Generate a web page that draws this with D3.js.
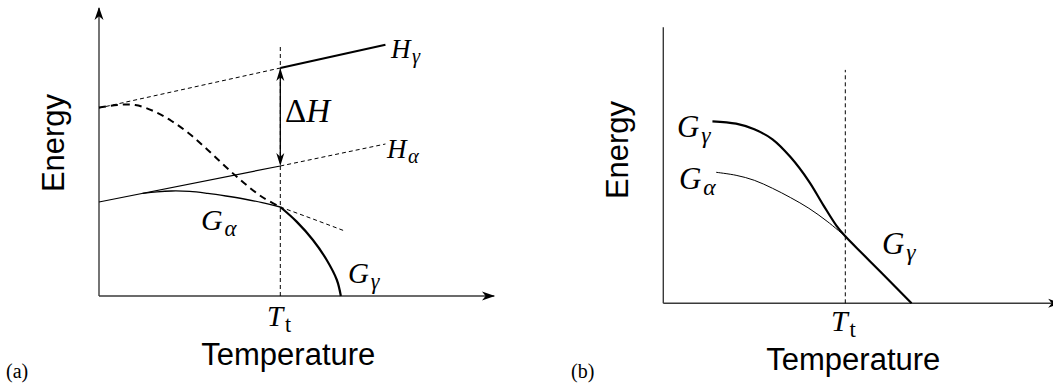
<!DOCTYPE html>
<html><head><meta charset="utf-8">
<script src="https://cdn.jsdelivr.net/npm/d3@7"></script>
<style>body{margin:0;background:#fff}</style>
</head><body>
<svg id="chart" width="1053" height="383"></svg>
<script>
// Transition temperature (same in both panels)
const tTransition = 5;

// Panel (a): enthalpy lines and Gibbs energy curves
const hGammaT = [0, 5, 7.9];
const hGammaE = [9.4, 11.4, 12.56];
const hAlphaT = [0, 5, 7.9];
const hAlphaE = [4.7, 6.5, 7.6];
const gAlphaT = [1.2, 1.6, 2.0, 2.5, 3.0, 3.5, 4.0, 4.5, 5.0];
const gAlphaE = [5.13, 5.21, 5.25, 5.23, 5.13, 5.0, 4.85, 4.67, 4.45];
const gAlphaExtT = [5.0, 5.9, 6.75];
const gAlphaExtE = [4.45, 3.85, 3.27];
const gGammaT = [0, 0.5, 1.0, 1.5, 2.0, 2.5, 3.0, 3.5, 4.0, 4.5, 5.0, 5.45, 5.9, 6.28, 6.56, 6.67];
const gGammaE = [9.42, 9.55, 9.55, 9.25, 8.75, 8.1, 7.3, 6.45, 5.65, 4.95, 4.45, 3.72, 2.8, 1.8, 0.8, 0];

// Panel (b): Gibbs energy curves
const bGammaT = [1.35, 2.0, 2.5, 3.0, 3.5, 4.0, 4.4, 4.75, 5.0, 5.5, 6.0, 6.82];
const bGammaE = [9.1, 8.98, 8.7, 8.2, 7.3, 6.1, 4.9, 3.9, 3.35, 2.43, 1.51, 0];
const bAlphaT = [1.45, 2.0, 2.5, 3.0, 3.5, 4.0, 4.5, 5.0];
const bAlphaE = [6.55, 6.4, 6.15, 5.75, 5.28, 4.75, 4.1, 3.35];

// Text
const axisTitles = {x: "Temperature", y: "Energy"};
const panelTags = ["(a)", "(b)"];

const svg = d3.select("#chart");
const zip = (ts, es) => ts.map((t, i) => [t, es[i]]);

const xA = d3.scaleLinear().domain([0, 5]).range([99, 280.3]);
const yA = d3.scaleLinear().domain([0, 10]).range([296, 96]);
const xB = d3.scaleLinear().domain([0, 5]).range([663.3, 845.3]);
const yB = d3.scaleLinear().domain([0, 10]).range([303.3, 103.3]);

const INK = "#000";
const AXIS = "#3a3a3a";
const SERIF = "'Liberation Serif', 'Times New Roman', serif";

function stealth(g, x, y, angle, L, W, color) {
  const p = `M0,0 L${-L},${-W / 2} L${-L * 0.72},0 L${-L},${W / 2} Z`;
  g.append("path").attr("d", p)
    .attr("transform", `translate(${x},${y}) rotate(${angle})`)
    .attr("fill", color).attr("stroke", "none");
}

function curve(g, x, y, pts, width, dash, kind) {
  const line = d3.line().x(d => x(d[0])).y(d => y(d[1]))
    .curve(kind || d3.curveCatmullRom.alpha(0.5));
  const p = g.append("path").datum(pts).attr("d", line)
    .attr("fill", "none").attr("stroke", INK)
    .attr("stroke-width", width).attr("stroke-linecap", "butt");
  if (dash) p.attr("stroke-dasharray", dash);
  return p;
}

// italic symbol with an optional subscript (italic Greek or upright roman)
function mathLabel(g, x, y, main, sub, size, subItalic, prefix) {
  const t = g.append("text").attr("x", x).attr("y", y)
    .attr("font-family", SERIF).attr("font-size", size).attr("fill", INK);
  if (prefix) t.append("tspan").attr("font-style", "normal").text(prefix);
  t.append("tspan").attr("font-style", "italic").text(main);
  if (sub) {
    t.append("tspan").attr("font-style", subItalic ? "italic" : "normal")
      .attr("font-size", size * 0.76)
      .attr("dx", size * 0.06)
      .attr("dy", size * 0.2).text(sub);
  }
  return t;
}

function sansTitle(g, x, y, text, rotate) {
  const t = g.append("text")
    .attr("font-family", "'Liberation Sans', Arial, sans-serif")
    .attr("font-size", 31).attr("fill", INK)
    .attr("text-anchor", "middle").text(text);
  if (rotate) t.attr("transform", `translate(${x},${y}) rotate(-90)`);
  else t.attr("x", x).attr("y", y);
}

// ---------- Panel (a) ----------
const a = svg.append("g");

// axes
a.append("line").attr("x1", xA(0)).attr("x2", xA(10.9)).attr("y1", yA(0)).attr("y2", yA(0))
  .attr("stroke", AXIS).attr("stroke-width", 1.4);
a.append("line").attr("x1", xA(0)).attr("x2", xA(0)).attr("y1", yA(0)).attr("y2", yA(14.4))
  .attr("stroke", AXIS).attr("stroke-width", 1.4);
stealth(a, xA(10.92), yA(0), 0, 13, 9, INK);
stealth(a, xA(0), yA(14.45), -90, 13, 9, INK);

// transition temperature marker
a.append("line").attr("x1", xA(tTransition)).attr("x2", xA(tTransition))
  .attr("y1", yA(0)).attr("y2", yA(12.55))
  .attr("stroke", INK).attr("stroke-width", 1).attr("stroke-dasharray", "4,3");

// H_gamma: dashed below Tt, solid above
const hG = zip(hGammaT, hGammaE);
curve(a, xA, yA, hG.filter(d => d[0] <= tTransition), 1, "4,3", d3.curveLinear);
curve(a, xA, yA, hG.filter(d => d[0] >= tTransition), 2.2, null, d3.curveLinear);

// H_alpha: solid below Tt, dashed above
const hA = zip(hAlphaT, hAlphaE);
curve(a, xA, yA, hA.filter(d => d[0] <= tTransition), 1.2, null, d3.curveLinear);
curve(a, xA, yA, hA.filter(d => d[0] >= tTransition), 1, "4,3", d3.curveLinear);

// G_alpha and its metastable extension
curve(a, xA, yA, zip(gAlphaT, gAlphaE), 1.3, null);
curve(a, xA, yA, zip(gAlphaExtT, gAlphaExtE), 1, "4,3", d3.curveLinear);

// G_gamma: thick dashed below Tt, thick solid above
const gG = zip(gGammaT, gGammaE);
curve(a, xA, yA, gG.filter(d => d[0] <= tTransition), 2, "7,5");
curve(a, xA, yA, gG.filter(d => d[0] >= tTransition), 2.2, null);

// Delta H double arrow between the two enthalpies at Tt
const hGt = hGammaE[hGammaT.indexOf(tTransition)];
const hAt = hAlphaE[hAlphaT.indexOf(tTransition)];
a.append("line").attr("x1", xA(tTransition)).attr("x2", xA(tTransition))
  .attr("y1", yA(hGt) + 8).attr("y2", yA(hAt) - 8)
  .attr("stroke", INK).attr("stroke-width", 1.3);
stealth(a, xA(tTransition), yA(hGt), -90, 13, 8, INK);
stealth(a, xA(tTransition), yA(hAt), 90, 13, 8, INK);

// labels
mathLabel(a, 391, 58, "H", "γ", 27, true);
mathLabel(a, 387, 158, "H", "α", 27, true);
mathLabel(a, 285, 122, "H", null, 33, false, "Δ");
mathLabel(a, 201, 230, "G", "α", 30, true);
mathLabel(a, 348, 283, "G", "γ", 29, true);
mathLabel(a, 267, 326, "T", "t", 29, false);
sansTitle(a, xA(tTransition) + 8, 365, axisTitles.x, false);
sansTitle(a, 64, 143, axisTitles.y, true);
a.append("text").attr("x", 6).attr("y", 378)
  .attr("font-family", SERIF).attr("font-size", 20).text(panelTags[0]);

// ---------- Panel (b) ----------
const b = svg.append("g");

b.append("line").attr("x1", xB(0)).attr("x2", xB(10.9)).attr("y1", yB(0)).attr("y2", yB(0))
  .attr("stroke", AXIS).attr("stroke-width", 1.4);
b.append("line").attr("x1", xB(0)).attr("x2", xB(0)).attr("y1", yB(0)).attr("y2", yB(13.8))
  .attr("stroke", AXIS).attr("stroke-width", 1.4);
stealth(b, xB(10.93), yB(0), 0, 13, 9, INK);

b.append("line").attr("x1", xB(tTransition)).attr("x2", xB(tTransition))
  .attr("y1", yB(0)).attr("y2", yB(11.67))
  .attr("stroke", INK).attr("stroke-width", 1).attr("stroke-dasharray", "4,3");

curve(b, xB, yB, zip(bAlphaT, bAlphaE), 1, null);
curve(b, xB, yB, zip(bGammaT, bGammaE), 2.2, null);

mathLabel(b, 677, 137, "G", "γ", 31, true);
mathLabel(b, 679, 189, "G", "α", 31, true);
mathLabel(b, 882, 254, "G", "γ", 31, true);
mathLabel(b, 831, 331, "T", "t", 30, false);
sansTitle(b, xB(tTransition) + 8, 370, axisTitles.x, false);
sansTitle(b, 628, 150, axisTitles.y, true);
b.append("text").attr("x", 571).attr("y", 378)
  .attr("font-family", SERIF).attr("font-size", 20).text(panelTags[1]);
</script>
</body></html>
